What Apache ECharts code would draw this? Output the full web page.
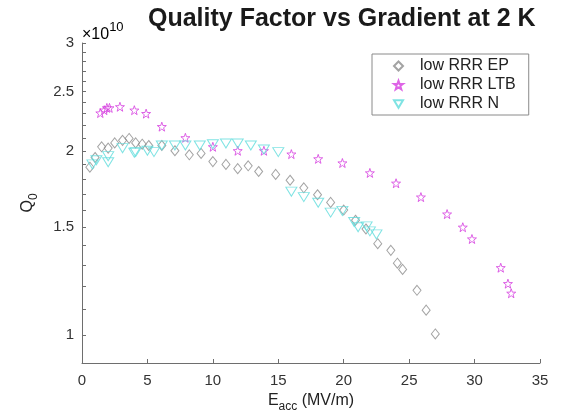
<!DOCTYPE html>
<html>
<head>
<meta charset="utf-8">
<script src="https://cdn.jsdelivr.net/npm/echarts@6/dist/echarts.min.js"></script>
<style>
  html, body { margin: 0; padding: 0; background: #fff; }
  #chart { width: 563px; height: 418px; }
</style>
</head>
<body>
<div id="chart"></div>
<script>
// Q0 values are in units of 1e10
const epE = [0.6, 1.0, 1.5, 2.0, 2.5, 3.1, 3.6, 4.1, 4.6, 5.1, 6.1, 7.1, 8.2, 9.1, 10.0, 11.0, 11.9, 12.7, 13.5, 14.8, 15.9, 16.95, 18.0, 19.0, 20.0, 20.9, 21.7, 22.6, 23.6, 24.1, 24.5, 25.6, 26.3, 27.0]
const epQ = [1.88, 1.95, 2.03, 2.02, 2.06, 2.08, 2.095, 2.06, 2.05, 2.04, 2.04, 2.0, 1.97, 1.98, 1.92, 1.90, 1.87, 1.89, 1.85, 1.83, 1.79, 1.74, 1.695, 1.647, 1.60, 1.54, 1.49, 1.41, 1.375, 1.31, 1.28, 1.183, 1.098, 1.004]

const ltbE = [1.4, 1.7, 1.9, 2.1, 2.9, 4.0, 4.9, 6.1, 7.9, 10.0, 11.9, 13.9, 16.0, 18.05, 19.9, 22.0, 24.0, 25.9, 27.9, 29.1, 29.8, 32.0, 32.55, 32.8]
const ltbQ = [2.305, 2.33, 2.35, 2.35, 2.36, 2.33, 2.30, 2.19, 2.10, 2.03, 2.00, 2.00, 1.975, 1.94, 1.91, 1.84, 1.77, 1.68, 1.576, 1.50, 1.435, 1.288, 1.213, 1.17]

const nE = [0.8, 1.1, 2.0, 2.0, 3.1, 4.0, 4.1, 5.0, 5.5, 6.1, 7.1, 7.9, 9.0, 10.0, 11.0, 11.9, 12.9, 13.9, 15.0, 16.0, 16.95, 18.05, 19.0, 19.9, 20.8, 21.1, 21.75, 22.0, 22.5]
const nQ = [1.90, 1.93, 1.96, 1.915, 2.02, 1.985, 1.99, 2.0, 1.99, 2.04, 2.04, 2.04, 2.04, 2.05, 2.055, 2.055, 2.04, 2.01, 1.99, 1.715, 1.68, 1.645, 1.585, 1.595, 1.53, 1.50, 1.505, 1.477, 1.46]

const yLabels = [1, 1.5, 2, 2.5, 3]
const yMinor = [1, 1.1, 1.2, 1.3, 1.4, 1.5, 1.6, 1.7, 1.8, 1.9, 2, 2.1, 2.2, 2.3, 2.4, 2.5, 2.6, 2.7, 2.8, 2.9, 3]

const font = 'Liberation Sans, Arial, sans-serif'
const starPath = 'path://M0,-10L2.35,-3.24L9.51,-3.09L3.8,1.24L5.88,8.09L0,4L-5.88,8.09L-3.8,1.24L-9.51,-3.09L-2.35,-3.24Z'
const triDownPath = 'path://M0,0L10,0L5,8.5Z'

function pairs(xs, ys) {
    return xs.map((x, i) => [x, ys[i]])
}

const chart = echarts.init(document.getElementById('chart'))
chart.setOption({
    animation: false,
    title: {
        text: 'Quality Factor vs Gradient at 2 K',
        left: 143,
        top: 2,
        textStyle: { fontFamily: font, fontSize: 25, fontWeight: 'bold', color: '#1a1a1a' }
    },
    legend: {
        orient: 'vertical',
        left: 372,
        top: 54,
        padding: [4, 13, 3, 21],
        itemGap: 3,
        itemWidth: 9,
        itemHeight: 9,
        borderColor: '#8a8a8a',
        borderWidth: 1,
        selectedMode: false,
        textStyle: { fontFamily: font, fontSize: 16, color: '#222', padding: [0, 0, 0, 12] },
        data: ['low RRR EP', 'low RRR LTB', 'low RRR N']
    },
    grid: { left: 82, right: 23, top: 43, bottom: 55 },
    xAxis: {
        type: 'value',
        min: 0,
        max: 35,
        interval: 5,
        name: 'E{s|acc} (MV/m)',
        nameLocation: 'middle',
        nameGap: 26,
        nameTextStyle: {
            fontFamily: font, fontSize: 16, color: '#222',
            rich: { s: { fontFamily: font, fontSize: 12, color: '#222', padding: [12, 0, 0, 0] } }
        },
        axisLine: { lineStyle: { color: '#6e6e6e' } },
        axisTick: { inside: true, length: 4, lineStyle: { color: '#6e6e6e' } },
        axisLabel: { fontFamily: font, fontSize: 15, color: '#333', margin: 10 },
        splitLine: { show: false }
    },
    yAxis: {
        type: 'log',
        logBase: 10,
        min: 0.9,
        max: 3,
        name: 'Q{s|0}',
        nameLocation: 'middle',
        nameGap: 42,
        nameRotate: 90,
        nameTextStyle: {
            fontFamily: font, fontSize: 16, color: '#222',
            rich: { s: { fontFamily: font, fontSize: 12, color: '#222', padding: [12, 0, 0, 0] } }
        },
        axisLine: { show: true, lineStyle: { color: '#6e6e6e' } },
        axisTick: { inside: true, length: 4, customValues: yMinor, lineStyle: { color: '#6e6e6e' } },
        axisLabel: { fontFamily: font, fontSize: 15, color: '#333', margin: 8, customValues: yLabels },
        splitLine: { show: false }
    },
    graphic: [{
        type: 'text',
        left: 82,
        top: 21,
        style: {
            text: '{a|×10}{b|10}',
            rich: {
                a: { fontFamily: font, fontSize: 16, color: '#333', padding: [8, 0, 0, 0] },
                b: { fontFamily: font, fontSize: 13, color: '#333', padding: [0, 0, 6, 0] }
            }
        }
    }],
    series: [
        {
            name: 'low RRR EP',
            type: 'scatter',
            symbol: 'diamond',
            symbolSize: [8, 10],
            itemStyle: { color: 'transparent', borderColor: '#8c8c8c', borderWidth: 1 },
            data: pairs(epE, epQ)
        },
        {
            name: 'low RRR LTB',
            type: 'scatter',
            symbol: starPath,
            symbolSize: 9,
            itemStyle: { color: 'transparent', borderColor: '#d63ee0', borderWidth: 1 },
            data: pairs(ltbE, ltbQ)
        },
        {
            name: 'low RRR N',
            type: 'scatter',
            symbol: triDownPath,
            symbolSize: [11, 9],
            itemStyle: { color: 'transparent', borderColor: '#5fdcdc', borderWidth: 1 },
            data: pairs(nE, nQ)
        }
    ]
})
</script>
</body>
</html>
